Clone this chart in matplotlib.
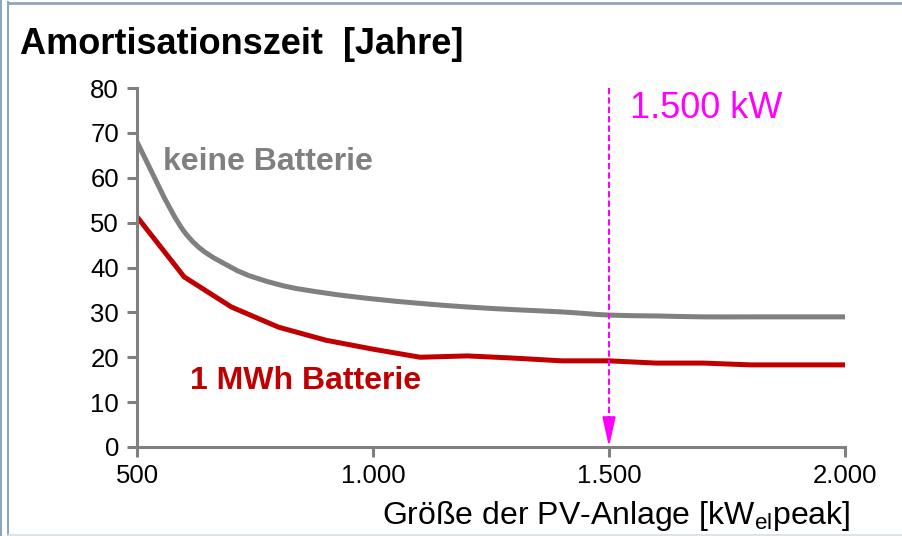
import matplotlib
matplotlib.use("Agg")
import matplotlib.pyplot as plt
from matplotlib.lines import Line2D
from matplotlib.path import Path
from matplotlib.patches import PathPatch

plt.rcParams['font.family'] = ['Liberation Sans', 'DejaVu Sans']

# data
pv_size = [500, 600, 700, 800, 900, 1000, 1100, 1200, 1300, 1400, 1500, 1600, 1700, 1800, 1900, 2000]
keine_batterie = [68, 48, 40, 36.2, 34.3, 33, 32, 31.2, 30.6, 30.1, 29.4, 29.2, 29.0, 29.0, 29.0, 29.0]
mwh_batterie = [51.3, 37.9, 31.2, 26.7, 23.8, 21.8, 20.0, 20.3, 19.8, 19.2, 19.2, 18.7, 18.7, 18.3, 18.3, 18.3]
x_ticks = [500, 1000, 1500, 2000]
x_tick_labels = ['500', '1.000', '1.500', '2.000']
y_ticks = [0, 10, 20, 30, 40, 50, 60, 70, 80]
marker_x = 1500

GRAY = '#808080'
RED = '#C00000'
MAG = '#FF00FF'


def smooth_path(xs, ys):
    """Excel-style smoothed line through the data points (cubic Bezier)."""
    n = len(xs)
    verts = [(xs[0], ys[0])]
    codes = [Path.MOVETO]
    for i in range(n - 1):
        x0, y0 = xs[max(i - 1, 0)], ys[max(i - 1, 0)]
        x1, y1 = xs[i], ys[i]
        x2, y2 = xs[i + 1], ys[i + 1]
        x3, y3 = xs[min(i + 2, n - 1)], ys[min(i + 2, n - 1)]
        c1 = (x1 + (x2 - x0) / 6, y1 + (y2 - y0) / 6)
        c2 = (x2 - (x3 - x1) / 6, y2 - (y3 - y1) / 6)
        verts += [c1, c2, (x2, y2)]
        codes += [Path.CURVE4] * 3
    return Path(verts, codes)


fig = plt.figure(figsize=(9.03, 5.36), dpi=100)
ax = fig.add_axes([137/903, 1 - 447/536, (845 - 137)/903, (447 - 88)/536])

ax.add_patch(PathPatch(smooth_path(pv_size, keine_batterie), facecolor='none',
                       edgecolor=GRAY, lw=3.6, capstyle='butt', joinstyle='round'))
ax.plot(pv_size, mwh_batterie, color=RED, lw=3.6, solid_capstyle='butt', solid_joinstyle='round')

ax.set_xlim(500, 2000)
ax.set_ylim(0, 80)
ax.set_xticks(x_ticks)
ax.set_xticklabels(x_tick_labels)
ax.set_yticks(y_ticks)

for s in ['top', 'right']:
    ax.spines[s].set_visible(False)
for s in ['left', 'bottom']:
    ax.spines[s].set_color(GRAY)
    ax.spines[s].set_linewidth(2.2)
ax.tick_params(axis='both', colors=GRAY, width=2.2, length=7, labelsize=18.5, labelcolor='black')
ax.tick_params(axis='x', pad=5)
ax.tick_params(axis='y', pad=6)

# marker line with arrow
ax.plot([marker_x, marker_x], [80, 3], color=MAG, lw=1.5, linestyle=(0, (3, 1.5)))
ax.annotate('', xy=(marker_x, 0), xytext=(marker_x, 6),
            arrowprops=dict(arrowstyle='-|>,head_length=1.8,head_width=0.4', mutation_scale=10,
                            color=MAG, lw=1.5, shrinkA=0, shrinkB=0))
ax.text(marker_x + 45, 75.5, '1.500 kW', color=MAG, fontsize=26, ha='left', va='center')

ax.text(555, 63.5, 'keine Batterie', color=GRAY, fontsize=23, fontweight='bold', ha='left', va='center')
ax.text(612, 14.7, '1 MWh Batterie', color=RED, fontsize=23, fontweight='bold', ha='left', va='center')

fig.text(20/903, 1 - 45/536, 'Amortisationszeit  [Jahre]', fontsize=26, fontweight='bold',
         ha='left', va='center')
fig.text(850/903, 1 - 516/536, r'Größe der PV-Anlage [kW$_{\mathregular{el}}$peak]', fontsize=23,
         ha='right', va='center')

# slide frame
frame_col = '#8FA5BC'
fig.add_artist(Line2D([1.5/903, 1.5/903], [0, 1], color=frame_col, lw=1.5))
fig.add_artist(Line2D([7.5/903, 7.5/903], [0, 1 - 2/536], color=frame_col, lw=1.5))
fig.add_artist(Line2D([7.5/903, 1], [1 - 2.5/536, 1 - 2.5/536], color=frame_col, lw=2))
fig.add_artist(Line2D([7.5/903, 1], [1.5/536, 1.5/536], color='#D8DEE6', lw=1.2))

fig.savefig('out.png', dpi=100)
